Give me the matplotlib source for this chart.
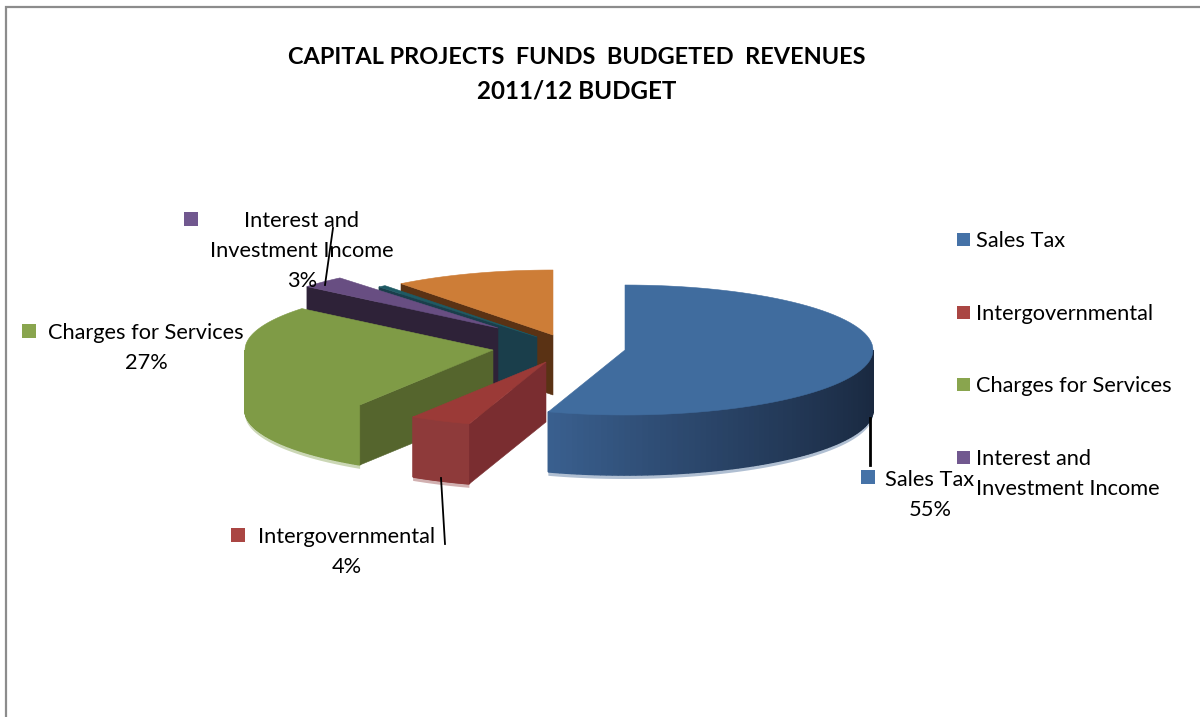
import numpy as np
import matplotlib
matplotlib.use('Agg')
import matplotlib.pyplot as plt
from matplotlib.patches import Polygon, Rectangle

plt.rcParams['font.family'] = ['Lato', 'DejaVu Sans']

# data (last two slices have no label)
categories = ['Sales Tax', 'Intergovernmental', 'Charges for Services',
              'Interest and\nInvestment Income', 'Other', 'Other 2']
values = [55, 4, 27, 3, 0.5, 10.5]
percent_labels = ['55%', '4%', '27%', '3%']

# colours per slice
top_colors = ['#406c9e', '#9b3a37', '#7f9b46', '#684e82', '#1e5a64', '#cd7d37']
cut_colors = ['#1a2e45', '#7a2d30', '#55652d', '#2e2238', '#1a3e4b', '#5a3214']
wall_light = ['#3a6090', '#8e3a3a', '#7f9b46', '#2e2238', '#1a3e4b', '#5a3214']
wall_dark = ['#19283f', '#8e3a3a', '#7f9b46', '#2e2238', '#1a3e4b', '#5a3214']
swatch_colors = ['#4572a7', '#aa4643', '#89a54e', '#71588f']

# exploded slice apexes in pixels, ellipse radii and pie height
apex = [(625, 350), (546, 362), (493, 350), (498, 328), (537, 337), (553, 335)]
rx, ry, depth = 248, 65, 60


def rim(cx, cy, a, b, n=80):
    # points on the ellipse, angles clockwise from top in degrees
    t = np.radians(np.linspace(a, b, n))
    return np.column_stack([cx + rx * np.sin(t), cy - ry * np.cos(t)])


def hex2rgb(c):
    return np.array(matplotlib.colors.to_rgb(c))


fig = plt.figure(figsize=(12, 7.17), dpi=100)
ax = fig.add_axes([0, 0, 1, 1])
ax.set_xlim(0, 1200)
ax.set_ylim(717, 0)
ax.axis('off')

# outer frame, open on the right and at the bottom
ax.plot([6, 6, 1200], [717, 7, 7], color='#8c8c8c', lw=1.6, solid_joinstyle='miter')

total = sum(values)
ends = np.cumsum(values) / total * 360
starts = np.concatenate([[0], ends[:-1]])

# back slices first
for i in [5, 4, 3, 2, 1, 0]:
    cx, cy = apex[i]
    a, b = starts[i], ends[i]

    # front wall, only the part of the rim facing the viewer
    fa, fb = max(a, 90), min(b, 270)
    if fb > fa:
        pts = rim(cx, cy, fa, fb)
        fringe = np.vstack([pts + [0, depth], (pts + [0, depth + 4])[::-1]])
        ax.add_patch(Polygon(fringe, fc=wall_light[i], ec='none', alpha=0.4, zorder=i * -3 + 20))
        light, dark = hex2rgb(wall_light[i]), hex2rgb(wall_dark[i])
        for j in range(len(pts) - 1):
            f = (fa + (fb - fa) * j / 79 - 90) / (198 - 90)
            col = dark + (light - dark) * min(f, 1) ** 1.5
            q = [pts[j], pts[j + 1], pts[j + 1] + [0, depth], pts[j] + [0, depth]]
            ax.add_patch(Polygon(q, fc=col, ec=col, lw=1.2, joinstyle='bevel', zorder=i * -3 + 21))

    # cut face along the starting edge
    if i != 0:
        p = rim(cx, cy, a, a, 1)[0]
        q = [(cx, cy), p, p + [0, depth], (cx, cy + depth)]
        ax.add_patch(Polygon(q, fc=cut_colors[i], ec=cut_colors[i], lw=0.4, zorder=i * -3 + 21))

    # top face
    top = np.vstack([[(cx, cy)], rim(cx, cy, a, b)])
    ax.add_patch(Polygon(top, fc=top_colors[i], ec=top_colors[i], lw=0.4, zorder=i * -3 + 22))

# title
ax.text(577, 58, 'CAPITAL PROJECTS  FUNDS  BUDGETED  REVENUES', ha='center', va='center',
        fontsize=16.9, fontweight='bold', color='black')
ax.text(577, 91, '2011/12 BUDGET', ha='center', va='center',
        fontsize=17.4, fontweight='bold', color='black')

# leader lines
ax.plot([870, 870], [418, 465], color='black', lw=2, zorder=30)
ax.plot([441, 445], [478, 544], color='black', lw=1.3, zorder=30)
ax.plot([333, 325], [228, 285], color='black', lw=1.3, zorder=30)

# data labels
label_xy = [(930, 480), (347, 537), (146, 333), (302, 221)]
swatch_xy = [(861, 470), (231, 528), (22, 324), (184, 212)]
for i in range(4):
    x, y = label_xy[i]
    lines = categories[i].split('\n') + [percent_labels[i]]
    for k, line in enumerate(lines):
        ax.text(x, y + k * 30, line, ha='center', va='center', fontsize=15.7, color='black', zorder=31)
    sx, sy = swatch_xy[i]
    ax.add_patch(Rectangle((sx, sy), 14, 14, fc=swatch_colors[i], ec='none', zorder=31))

# legend
legend_y = [241, 314, 386, 459]
for i in range(4):
    ax.add_patch(Rectangle((957, legend_y[i] - 8), 13, 13, fc=swatch_colors[i], ec='none', zorder=31))
    for k, line in enumerate(categories[i].split('\n')):
        ax.text(976, legend_y[i] + k * 30, line, ha='left', va='center', fontsize=15.7, color='black', zorder=31)

fig.savefig('out.png', dpi=100)
